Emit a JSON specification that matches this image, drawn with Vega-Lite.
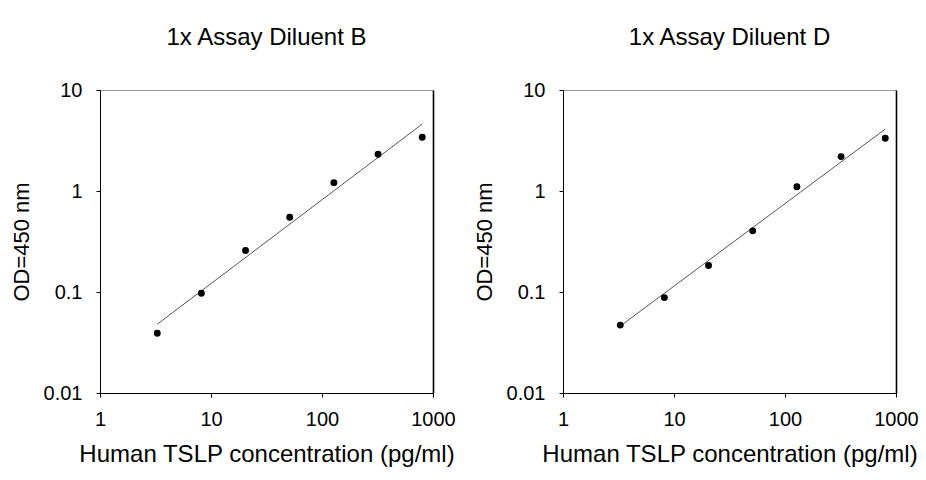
{
  "$schema": "https://vega.github.io/schema/vega-lite/v6.json",
  "background": "white",
  "padding": {"left": 9, "top": 25, "right": 5, "bottom": 5},
  "spacing": 16,
  "datasets": {
    "points": [
      {"panel": "B", "conc": 3.28, "od": 0.039},
      {"panel": "B", "conc": 8.19, "od": 0.097},
      {"panel": "B", "conc": 20.48, "od": 0.258},
      {"panel": "B", "conc": 51.2, "od": 0.55},
      {"panel": "B", "conc": 128, "od": 1.21},
      {"panel": "B", "conc": 320, "od": 2.31},
      {"panel": "B", "conc": 800, "od": 3.4},
      {"panel": "D", "conc": 3.28, "od": 0.047},
      {"panel": "D", "conc": 8.19, "od": 0.088},
      {"panel": "D", "conc": 20.48, "od": 0.183},
      {"panel": "D", "conc": 51.2, "od": 0.403},
      {"panel": "D", "conc": 128, "od": 1.1},
      {"panel": "D", "conc": 320, "od": 2.19},
      {"panel": "D", "conc": 800, "od": 3.33}
    ],
    "fits": [
      {"panel": "B", "conc": 3.28, "od": 0.048},
      {"panel": "B", "conc": 800, "od": 4.6},
      {"panel": "D", "conc": 3.28, "od": 0.046},
      {"panel": "D", "conc": 800, "od": 4.1}
    ]
  },
  "config": {
    "font": "Liberation Sans",
    "view": {"stroke": "#9a9a9a", "strokeWidth": 1},
    "title": {"fontSize": 24, "fontWeight": "normal", "color": "black", "offset": 30},
    "axis": {
      "domainColor": "black",
      "tickColor": "black",
      "tickSize": 4,
      "grid": false,
      "labelColor": "black",
      "labelFontSize": 20,
      "titleColor": "black",
      "titleFontSize": 22,
      "titleFontWeight": "normal"
    },
    "axisX": {"titleFontSize": 24}
  },
  "hconcat": [
    {
      "title": "1x Assay Diluent B",
      "width": 333,
      "height": 303,
      "layer": [
        {
          "data": {"name": "fits"},
          "transform": [{"filter": "datum.panel === 'B'"}],
          "mark": {"type": "line", "color": "#555555", "strokeWidth": 1},
          "encoding": {
            "x": {"field": "conc", "type": "quantitative", "scale": {"type": "log", "domain": [1, 1000]},
                  "axis": {"values": [1, 10, 100, 1000], "format": "~g", "title": "Human TSLP concentration (pg/ml)", "labelPadding": 12, "titlePadding": 13, "labelFlush": false}},
            "y": {"field": "od", "type": "quantitative", "scale": {"type": "log", "domain": [0.01, 10]},
                  "axis": {"orient": "right", "labels": false, "ticks": false, "title": null, "domainWidth": 1.6}}
          }
        },
        {
          "data": {"name": "points"},
          "transform": [{"filter": "datum.panel === 'B'"}],
          "mark": {"type": "circle", "color": "black", "opacity": 1, "size": 48},
          "encoding": {
            "x": {"field": "conc", "type": "quantitative", "scale": {"type": "log", "domain": [1, 1000]},
                  "axis": {"values": [1, 10, 100, 1000], "format": "~g", "title": "Human TSLP concentration (pg/ml)", "labelPadding": 12, "titlePadding": 13, "labelFlush": false}},
            "y": {"field": "od", "type": "quantitative", "scale": {"type": "log", "domain": [0.01, 10]},
                  "axis": {"values": [0.01, 0.1, 1, 10], "format": "~g", "title": "OD=450 nm", "labelPadding": 14, "titlePadding": 10, "labelFlush": false}}
          }
        }
      ],
      "resolve": {"scale": {"y": "independent"}, "axis": {"y": "independent"}}
    },
    {
      "title": "1x Assay Diluent D",
      "width": 333,
      "height": 303,
      "layer": [
        {
          "data": {"name": "fits"},
          "transform": [{"filter": "datum.panel === 'D'"}],
          "mark": {"type": "line", "color": "#555555", "strokeWidth": 1},
          "encoding": {
            "x": {"field": "conc", "type": "quantitative", "scale": {"type": "log", "domain": [1, 1000]},
                  "axis": {"values": [1, 10, 100, 1000], "format": "~g", "title": "Human TSLP concentration (pg/ml)", "labelPadding": 12, "titlePadding": 13, "labelFlush": false}},
            "y": {"field": "od", "type": "quantitative", "scale": {"type": "log", "domain": [0.01, 10]},
                  "axis": {"orient": "right", "labels": false, "ticks": false, "title": null, "domainWidth": 1.6}}
          }
        },
        {
          "data": {"name": "points"},
          "transform": [{"filter": "datum.panel === 'D'"}],
          "mark": {"type": "circle", "color": "black", "opacity": 1, "size": 48},
          "encoding": {
            "x": {"field": "conc", "type": "quantitative", "scale": {"type": "log", "domain": [1, 1000]},
                  "axis": {"values": [1, 10, 100, 1000], "format": "~g", "title": "Human TSLP concentration (pg/ml)", "labelPadding": 12, "titlePadding": 13, "labelFlush": false}},
            "y": {"field": "od", "type": "quantitative", "scale": {"type": "log", "domain": [0.01, 10]},
                  "axis": {"values": [0.01, 0.1, 1, 10], "format": "~g", "title": "OD=450 nm", "labelPadding": 14, "titlePadding": 10, "labelFlush": false}}
          }
        }
      ],
      "resolve": {"scale": {"y": "independent"}, "axis": {"y": "independent"}}
    }
  ]
}
